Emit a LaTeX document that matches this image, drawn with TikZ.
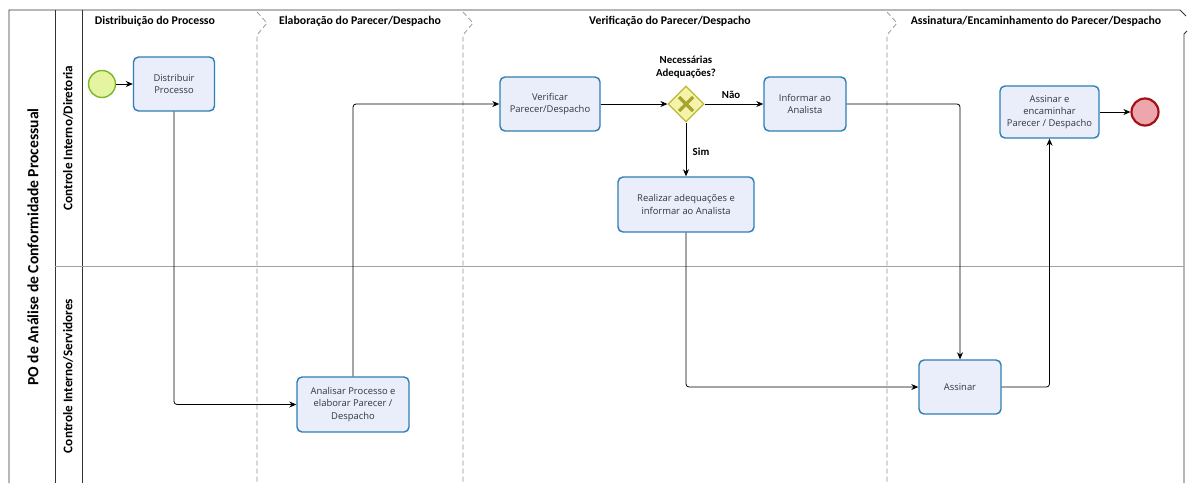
\documentclass[tikz,border=0pt]{standalone}
\usepackage{fontspec}
\setmainfont{Carlito}
\newfontfamily\taskfont{Open Sans}
\usetikzlibrary{arrows.meta,shapes.geometric}
\definecolor{taskfill}{HTML}{EAEEFB}
\definecolor{taskdraw}{HTML}{2E7DB5}
\definecolor{startfill}{HTML}{E4F4A0}
\definecolor{startdraw}{HTML}{7DB52B}
\definecolor{endfill}{HTML}{EBA7AB}
\definecolor{enddraw}{HTML}{A50F15}
\definecolor{gwfill}{HTML}{F5F3A8}
\definecolor{gwdraw}{HTML}{BDB83A}
\definecolor{gwx}{HTML}{A8A430}
\definecolor{pooldraw}{HTML}{333333}
\definecolor{lanesep}{HTML}{A0A0A0}
\definecolor{phasesep}{HTML}{909090}
\definecolor{tasktext}{HTML}{333344}
\tikzset{
  task/.style={draw=taskdraw, fill=taskfill, line width=1.4pt, rounded corners=5pt,
    align=center, inner sep=0pt, font=\taskfont\fontsize{9.4}{12.3}\selectfont, text=tasktext},
  flow/.style={draw=black, line width=0.8pt, rounded corners=3pt, -{Stealth[length=7pt,width=6pt]}},
  hdr/.style={font=\bfseries\fontsize{11.8}{13}\selectfont, anchor=center},
  lbl/.style={font=\bfseries\fontsize{10.8}{12.5}\selectfont, align=center},
  lanelbl/.style={rotate=90, font=\bfseries\fontsize{13.2}{15}\selectfont},
  psep/.style={draw=phasesep, line width=0.7pt, dash pattern=on 5pt off 3pt},
}
\begin{document}
\begin{tikzpicture}[x=1pt,y=-1pt]
\useasboundingbox (0,0) rectangle (1188,483);
% pool and lane frame
\draw[pooldraw, line width=0.9pt] (9,483) -- (9,10) -- (1180,10) -- (1186,16);
\draw[pooldraw, line width=0.9pt] (1187,31) -- (1184,34) -- (1184,483);
\draw[pooldraw, line width=0.9pt] (55,10) -- (55,483);
\draw[pooldraw, line width=0.9pt] (82,10) -- (82,483);
\draw[lanesep, line width=0.9pt] (55,266) -- (1184,266);
% phase separators
\foreach \px in {257,463,887}{
  \draw[psep] (\px,12) -- (\px+10,23) -- (\px,35) -- (\px,483);
}
% labels
\node[rotate=90, font=\bfseries\fontsize{15.6}{17}\selectfont] (pool) at (33,247) {PO de Análise de Conformidade Processual};
\node[lanelbl] (lane1) at (68,138) {Controle Interno/Diretoria};
\node[lanelbl] (lane2) at (68,376) {Controle Interno/Servidores};
\node[hdr] (ph1) at (155,21) {Distribuição do Processo};
\node[hdr] (ph2) at (360,21) {Elaboração do Parecer/Despacho};
\node[hdr] (ph3) at (670,21) {Verificação do Parecer/Despacho};
\node[hdr] (ph4) at (1036,21) {Assinatura/Encaminhamento do Parecer/Despacho};
% events
\node[circle, draw=startdraw, fill=startfill, line width=1.4pt, minimum size=27pt, inner sep=0pt] (start) at (102,84) {};
\node[circle, draw=enddraw, fill=endfill, line width=2.2pt, minimum size=27pt, inner sep=0pt] (end) at (1145,112) {};
% tasks
\node[task, minimum width=81pt, minimum height=54pt] (dist) at (174,84) {Distribuir\\Processo};
\node[task, minimum width=100pt, minimum height=54pt] (verif) at (550,104) {Verificar\\Parecer/Despacho};
\node[task, minimum width=82pt, minimum height=54pt] (inf) at (805,104) {Informar ao\\Analista};
\node[task, minimum width=136pt, minimum height=55pt] (real) at (686,204.5) {Realizar adequações e\\informar ao Analista};
\node[task, minimum width=112pt, minimum height=55pt] (anal) at (353,404.5) {Analisar Processo e\\elaborar Parecer /\\Despacho};
\node[task, minimum width=82pt, minimum height=54pt] (ass) at (960,387) {Assinar};
\node[task, minimum width=99pt, minimum height=52pt] (enc) at (1049.5,112) {Assinar e\\encaminhar\\Parecer / Despacho};
% gateway
\node[diamond, draw=gwdraw, fill=gwfill, line width=1.2pt, minimum width=36pt, minimum height=36pt, inner sep=0pt] (gw) at (686,104) {};
\draw[gwx, line width=3.2pt] (679,97) -- (693,111) (693,97) -- (679,111);
\node[lbl] (gwl) at (686,67) {Necessárias\\Adequações?};
% flows
\draw[flow] (start) -- (dist);
\draw[flow] (dist.south) |- (anal.west);
\draw[flow] (anal.north) |- (verif.west);
\draw[flow] (verif) -- (gw);
\draw[flow] (gw) -- node[lbl, above=2pt, pos=0.45] (nao) {Não} (inf);
\draw[flow] (gw) -- node[lbl, right=3pt, pos=0.55] (sim) {Sim} (real);
\draw[flow] (inf.east) -| (ass.north);
\draw[flow] (real.south) |- (ass.west);
\draw[flow] (ass.east) -| (enc.south);
\draw[flow] (enc) -- (end);
\end{tikzpicture}
\end{document}
